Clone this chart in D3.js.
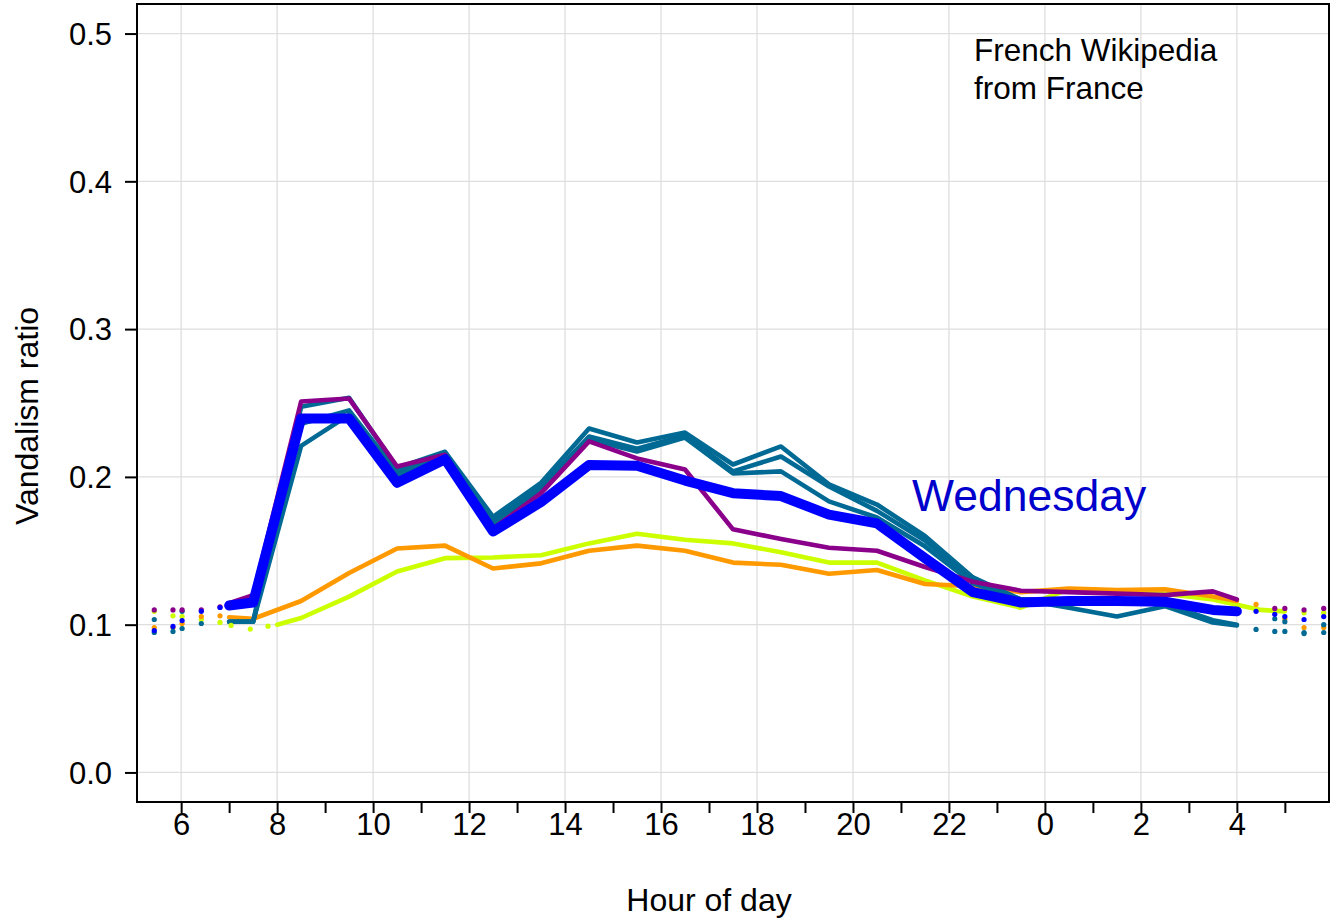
<!DOCTYPE html>
<html><head><meta charset="utf-8">
<script src="https://cdn.jsdelivr.net/npm/d3@7"></script>
<style>body{margin:0;background:#fff}svg{display:block}text{font-family:"Liberation Sans",Arial,Helvetica,sans-serif}</style>
</head><body>
<svg id="c" width="1333" height="922"></svg>
<script>
// ---- data ----
const hours = [7, 7.5, 8.5, 9.5, 10.5, 11.5, 12.5, 13.5, 14.5, 15.5, 16.5, 17.5, 18.5, 19.5, 20.5, 21.5, 22.5, 23.5, 24.5, 25.5, 26.5, 27.5, 28];
const hoursSunday = [8, 8.5, 9.5, 10.5, 11.5, 12.5, 13.5, 14.5, 15.5, 16.5, 17.5, 18.5, 19.5, 20.5, 21.5, 22.5, 23.5, 24.5, 25.5, 26.5, 27.5, 28.5, 29];
const wednesday = [0.113, 0.115, 0.2395, 0.2395, 0.196, 0.212, 0.163, 0.183, 0.208, 0.2075, 0.1975, 0.189, 0.187, 0.1745, 0.1685, 0.145, 0.122, 0.115, 0.116, 0.116, 0.1155, 0.110, 0.109];
const friday = [0.1145, 0.120, 0.251, 0.253, 0.207, 0.215, 0.165, 0.189, 0.224, 0.2125, 0.205, 0.1645, 0.158, 0.152, 0.150, 0.139, 0.129, 0.123, 0.122, 0.121, 0.120, 0.1225, 0.117];
const saturday = [0.105, 0.104, 0.116, 0.135, 0.1515, 0.1535, 0.138, 0.1415, 0.150, 0.1535, 0.150, 0.142, 0.1405, 0.1345, 0.137, 0.1275, 0.126, 0.122, 0.1245, 0.1235, 0.124, 0.119, 0.116];
const sunday = [0.100, 0.1045, 0.119, 0.136, 0.145, 0.1455, 0.147, 0.155, 0.1615, 0.1575, 0.155, 0.149, 0.142, 0.142, 0.130, 0.119, 0.1115, 0.124, 0.1225, 0.121, 0.117, 0.110, 0.109];
const monday = [0.102, 0.102, 0.221, 0.242, 0.200, 0.213, 0.168, 0.190, 0.2253, 0.2172, 0.2266, 0.2023, 0.2037, 0.1834, 0.1725, 0.153, 0.128, 0.117, 0.115, 0.115, 0.114, 0.103, 0.100];
const tuesday = [0.102, 0.102, 0.2475, 0.2535, 0.206, 0.217, 0.173, 0.196, 0.2327, 0.2233, 0.230, 0.2084, 0.2206, 0.1949, 0.1813, 0.160, 0.132, 0.117, 0.1115, 0.1055, 0.1125, 0.1015, 0.0995];
const thursday = [0.102, 0.102, 0.236, 0.245, 0.203, 0.215, 0.170, 0.193, 0.2273, 0.219, 0.228, 0.2037, 0.2138, 0.1935, 0.177, 0.157, 0.130, 0.117, 0.117, 0.117, 0.116, 0.111, 0.110];

// dots outside the line range
const fridayDotHours = [5.44, 5.83, 6.02, 6.42, 6.81, 28.79, 29.0, 29.4, 29.81];
const fridayDots = [0.110, 0.110, 0.110, 0.110, 0.112, 0.111, 0.111, 0.110, 0.111];
const wednesdayDotHours = [5.44, 5.83, 6.02, 6.42, 6.81, 28.4, 28.79, 29.0, 29.4, 29.81];
const wednesdayDots = [0.096, 0.0988, 0.1028, 0.109, 0.1116, 0.109, 0.107, 0.1055, 0.1035, 0.1055];
const saturdayDotHours = [5.44, 5.83, 6.02, 6.42, 6.81, 28.4, 29.0, 29.4, 29.81];
const saturdayDots = [0.098, 0.098, 0.1008, 0.1055, 0.106, 0.1137, 0.104, 0.098, 0.098];
const sundayDotHours = [5.44, 5.83, 6.02, 6.42, 6.81, 7.04, 7.44, 7.81, 29.4, 29.81];
const sundayDots = [0.109, 0.106, 0.1055, 0.1035, 0.1015, 0.0995, 0.097, 0.099, 0.108, 0.108];
const mondayDotHours = [5.44, 5.83, 6.02, 6.42, 28.4, 28.79, 29.0, 29.4, 29.81];
const mondayDots = [0.0947, 0.0954, 0.0974, 0.1008, 0.0968, 0.0954, 0.0954, 0.0947, 0.0947];
const tuesdayDotHours = [5.44, 6.02, 28.79, 29.0, 29.4, 29.81];
const tuesdayDots = [0.1035, 0.109, 0.104, 0.102, 0.094, 0.100];

const xTickHours = d3.range(6, 30, 1);
const xLabelHours = d3.range(6, 29, 2);
const yTicks = [0, 0.1, 0.2, 0.3, 0.4, 0.5];

// ---- series table ----
const teal = "#006994";
const series = [
  {name: "Sunday", xs: hoursSunday, ys: sunday, dx: sundayDotHours, dy: sundayDots, color: "#ccff00", w: 4.6},
  {name: "Saturday", xs: hours, ys: saturday, dx: saturdayDotHours, dy: saturdayDots, color: "#ff9900", w: 4.6},
  {name: "Thursday", xs: hours, ys: thursday, dx: [], dy: [], color: teal, w: 4.6},
  {name: "Monday", xs: hours, ys: monday, dx: mondayDotHours, dy: mondayDots, color: teal, w: 4.6},
  {name: "Tuesday", xs: hours, ys: tuesday, dx: tuesdayDotHours, dy: tuesdayDots, color: teal, w: 4.6},
  {name: "Friday", xs: hours, ys: friday, dx: fridayDotHours, dy: fridayDots, color: "#8b008b", w: 4.6},
  {name: "Wednesday", xs: hours, ys: wednesday, dx: wednesdayDotHours, dy: wednesdayDots, color: "#0000ff", w: 10}
];

const svg = d3.select("#c");
const L = 137, R = 1329, T = 4, B = 802;
const x = d3.scaleLinear().domain([5.08, 29.92]).range([L, R]);
const y = d3.scaleLinear().domain([-0.02, 0.52]).range([B, T]);

// grid
svg.append("g").selectAll("line").data(xLabelHours).join("line")
  .attr("x1", d => x(d)).attr("x2", d => x(d)).attr("y1", T).attr("y2", B)
  .attr("stroke", "#dedede").attr("stroke-width", 1.3);
svg.append("g").selectAll("line").data(yTicks).join("line")
  .attr("x1", L).attr("x2", R).attr("y1", d => y(d)).attr("y2", d => y(d))
  .attr("stroke", "#dedede").attr("stroke-width", 1.3);

// lines
const line = d3.line().x(d => x(d[0])).y(d => y(d[1]));
const plot = svg.append("g");
series.forEach(s => {
  plot.append("path").datum(d3.zip(s.xs, s.ys)).attr("d", line)
    .attr("fill", "none").attr("stroke", s.color).attr("stroke-width", s.w)
    .attr("stroke-linejoin", "round").attr("stroke-linecap", "round");
});
series.forEach(s => {
  plot.append("g").selectAll("circle").data(d3.zip(s.dx, s.dy)).join("circle")
    .attr("cx", d => x(d[0])).attr("cy", d => y(d[1])).attr("r", 2.6).attr("fill", s.color);
});

// box
svg.append("rect").attr("x", L).attr("y", T).attr("width", R - L).attr("height", B - T)
  .attr("fill", "none").attr("stroke", "#000").attr("stroke-width", 2);

// axes
const xAxis = d3.axisBottom(x).tickValues(xTickHours).tickSize(11).tickFormat(d => xLabelHours.includes(d) ? String(d % 24) : "");
const gx = svg.append("g").attr("transform", `translate(0,${B})`).call(xAxis);
gx.select(".domain").remove();
gx.selectAll(".tick line").attr("stroke", "#000").attr("stroke-width", 2);
gx.selectAll(".tick text").attr("font-size", 31).attr("fill", "#000").attr("dy", "0").attr("y", 33);

const yAxis = d3.axisLeft(y).tickValues(yTicks).tickSize(12).tickFormat(d3.format(".1f"));
const gy = svg.append("g").attr("transform", `translate(${L},0)`).call(yAxis);
gy.select(".domain").remove();
gy.selectAll(".tick line").attr("stroke", "#000").attr("stroke-width", 2);
gy.selectAll(".tick text").attr("font-size", 31).attr("fill", "#000").attr("x", -25).attr("dy", "0.35em");

// titles
svg.append("text").attr("x", 709).attr("y", 911).attr("text-anchor", "middle").attr("font-size", 32).text("Hour of day");
svg.append("text").attr("transform", "translate(38,416) rotate(-90)").attr("text-anchor", "middle").attr("font-size", 32).text("Vandalism ratio");
svg.append("text").attr("x", 974).attr("y", 61).attr("font-size", 31.5).text("French Wikipedia");
svg.append("text").attr("x", 974).attr("y", 99).attr("font-size", 31.5).text("from France");
svg.append("text").attr("x", 912).attr("y", 511).attr("font-size", 44.5).attr("fill", "#0000cc").text("Wednesday");
</script>
</body></html>
